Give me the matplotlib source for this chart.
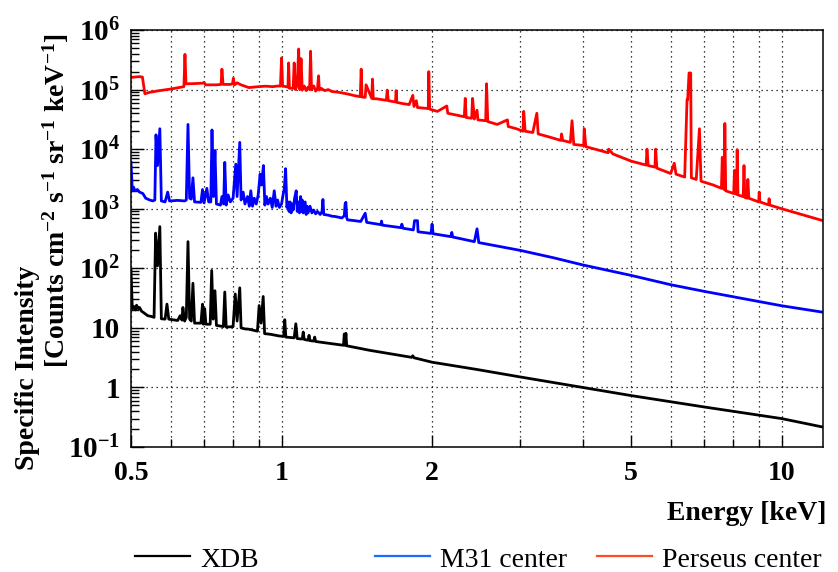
import numpy as np
import matplotlib
matplotlib.use('Agg')
import matplotlib.pyplot as plt
from matplotlib.lines import Line2D
from matplotlib.ticker import FixedLocator, FixedFormatter, NullFormatter

plt.rcParams['font.family'] = ['Liberation Serif', 'DejaVu Serif']
plt.rcParams['mathtext.fontset'] = 'custom'
plt.rcParams['mathtext.rm'] = 'Liberation Serif:bold'
plt.rcParams['mathtext.default'] = 'rm'

# spectra: energy [keV], intensity
xdb_e = [0.500, 0.503, 0.506, 0.510, 0.513, 0.517, 0.520, 0.525, 0.530, 0.540, 0.550, 0.556,
         0.560, 0.565, 0.571, 0.575, 0.585, 0.590, 0.595, 0.620, 0.627, 0.632, 0.635, 0.640,
         0.645, 0.650, 0.655, 0.660, 0.665, 0.670, 0.690, 0.695, 0.698, 0.702, 0.706, 0.720,
         0.725, 0.730, 0.736, 0.741, 0.765, 0.770, 0.775, 0.800, 0.808, 0.815, 0.825, 0.830,
         0.845, 0.860, 0.895, 0.902, 0.910, 0.919, 0.925, 0.950, 0.990, 1.010, 1.015, 1.020,
         1.060, 1.068, 1.075, 1.100, 1.105, 1.110, 1.130, 1.135, 1.140, 1.160, 1.165, 1.170,
         1.330, 1.335, 1.340, 1.345, 1.350, 1.500, 1.820, 1.830, 1.840, 2.000, 2.460, 3.000,
         5.000, 7.000, 10.00, 12.10]
xdb_i = [92, 21, 23, 20, 24, 21, 22, 19, 18, 16, 15.5, 15,
         390, 110, 500, 14.2, 14, 25, 14, 13.3, 16, 13.5, 22, 13,
         15, 280, 14, 13, 56, 12, 12, 25, 11.5, 21, 11.5, 11.5,
         92, 14, 42, 11, 10.5, 40, 10.3, 10.5, 37, 13, 47, 10,
         9.6, 9.5, 8.8, 23.7, 12, 33.6, 8, 7.8, 7.3, 7.2, 13.7, 7.0,
         6.8, 11.7, 6.6, 6.5, 8.5, 6.4, 6.2, 7.5, 6.1, 6.0, 7.0, 5.9,
         5.1, 7.9, 5.1, 8.1, 5.0, 4.2, 3.2, 3.4, 3.15, 2.65, 2.0, 1.5,
         0.73, 0.47, 0.30, 0.216]

m31_e = [0.500, 0.503, 0.506, 0.509, 0.515, 0.520, 0.528, 0.535, 0.545, 0.553, 0.558, 0.561,
         0.565, 0.571, 0.575, 0.585, 0.592, 0.597, 0.620, 0.640, 0.645, 0.650, 0.655, 0.660,
         0.665, 0.670, 0.690, 0.695, 0.700, 0.709, 0.715, 0.722, 0.726, 0.731, 0.736, 0.741,
         0.755, 0.760, 0.766, 0.770, 0.775, 0.782, 0.790, 0.800, 0.810, 0.815, 0.825, 0.830,
         0.838, 0.845, 0.855, 0.862, 0.868, 0.875, 0.882, 0.890, 0.898, 0.906, 0.912, 0.920,
         0.926, 0.933, 0.940, 0.950, 0.958, 0.967, 0.975, 0.982, 0.990, 1.000, 1.007, 1.013,
         1.019, 1.025, 1.030, 1.035, 1.040, 1.045, 1.050, 1.055, 1.062, 1.070, 1.075, 1.080,
         1.086, 1.092, 1.097, 1.100, 1.105, 1.110, 1.115, 1.120, 1.125, 1.130, 1.140, 1.150,
         1.160, 1.170, 1.180, 1.195, 1.205, 1.210, 1.215, 1.240, 1.260, 1.280, 1.300, 1.320,
         1.335, 1.340, 1.345, 1.350, 1.355, 1.400, 1.440, 1.470, 1.480, 1.580, 1.585, 1.590,
         1.735, 1.740, 1.750, 1.835, 1.845, 1.870, 1.875, 1.990, 2.000, 2.010, 2.180, 2.190,
         2.200, 2.430, 2.460, 2.480, 3.000, 3.500, 4.000, 5.000, 6.000, 7.000, 8.500, 10.00,
         12.10]
m31_i = [6000, 2000, 2300, 2000, 2100, 1900, 1800, 1500, 1400, 1350, 1400, 17400,
         5300, 22000, 1350, 1300, 1900, 1350, 1380, 1350, 1400, 26000, 1500, 1450,
         3300, 1300, 1280, 2100, 1250, 2200, 1300, 1300, 21000, 1600, 9500, 1200,
         1150, 1600, 1200, 6000, 1150, 1700, 1300, 1500, 5600, 1600, 13000, 1400,
         1900, 1200, 1600, 1100, 2000, 1100, 1500, 1200, 1700, 3800, 2500, 5300,
         1150, 1600, 1200, 1500, 1050, 2000, 1100, 1400, 1050, 1200, 1700, 2200,
         4700, 1050, 1300, 900, 1300, 850, 1200, 950, 1500, 2000, 900, 1300,
         850, 1600, 900, 1400, 850, 1250, 1300, 800, 1100, 850, 1100, 850,
         950, 820, 900, 800, 900, 1430, 800, 780, 750, 740, 720, 700,
         760, 1200, 1280, 700, 650, 630, 610, 840, 590, 540, 620, 530,
         480, 550, 470, 440, 630, 630, 410, 385, 550, 380, 340, 400,
         335, 280, 460, 270, 200, 150, 114, 76, 53, 41, 30.3, 23.5,
         18.3]

per_e = [0.500, 0.520, 0.527, 0.533, 0.545, 0.570, 0.600, 0.630, 0.638, 0.641, 0.644, 0.670,
         0.695, 0.700, 0.705, 0.740, 0.757, 0.760, 0.764, 0.790, 0.798, 0.801, 0.805, 0.815,
         0.830, 0.860, 0.900, 0.930, 0.960, 0.985, 0.995, 1.000, 1.005, 1.020, 1.030, 1.033,
         1.037, 1.055, 1.060, 1.066, 1.075, 1.082, 1.088, 1.094, 1.100, 1.110, 1.120, 1.130,
         1.138, 1.143, 1.148, 1.160, 1.170, 1.180, 1.186, 1.190, 1.200, 1.220, 1.240, 1.260,
         1.300, 1.350, 1.400, 1.437, 1.443, 1.449, 1.470, 1.476, 1.515, 1.520, 1.526, 1.550,
         1.620, 1.627, 1.635, 1.690, 1.695, 1.700, 1.750, 1.800, 1.830, 1.840, 1.860, 1.870,
         1.920, 1.965, 1.970, 1.978, 2.050, 2.140, 2.150, 2.250, 2.320, 2.330, 2.340, 2.400,
         2.410, 2.430, 2.460, 2.470, 2.560, 2.570, 2.585, 2.700, 2.830, 2.840, 2.950, 3.040,
         3.050, 3.070, 3.180, 3.240, 3.260, 3.430, 3.620, 3.630, 3.650, 3.780, 3.810, 3.840,
         4.020, 4.030, 4.060, 4.500, 4.510, 4.600, 5.000, 5.360, 5.380, 5.410, 5.580, 5.600,
         5.630, 6.000, 6.100, 6.150, 6.400, 6.470, 6.490, 6.530, 6.580, 6.600, 6.750, 6.850,
         6.900, 7.300, 7.580, 7.610, 7.640, 7.680, 7.700, 7.730, 8.020, 8.050, 8.080, 8.130,
         8.150, 8.180, 8.380, 8.410, 8.440, 8.530, 8.560, 8.600, 9.000, 9.020, 9.050, 9.420,
         9.440, 9.470, 10.00, 12.10]
per_i = [1.60e5, 1.65e5, 1.62e5, 8.5e4, 9.0e4, 9.6e4, 1.02e5, 1.10e5, 1.12e5, 3.9e5, 1.25e5, 1.26e5,
         1.28e5, 1.32e5, 1.20e5, 1.20e5, 1.22e5, 2.2e5, 1.22e5, 1.22e5, 1.25e5, 1.55e5, 1.20e5, 1.30e5,
         1.20e5, 1.08e5, 1.12e5, 1.14e5, 1.12e5, 1.15e5, 1.14e5, 3.4e5, 1.15e5, 1.12e5, 1.10e5, 2.8e5,
         1.05e5, 1.05e5, 2.8e5, 1.00e5, 1.20e5, 4.8e5, 1.00e5, 3.3e5, 9.8e4, 1.15e5, 9.6e4, 1.10e5,
         1.00e5, 4.4e5, 1.00e5, 1.15e5, 9.4e4, 1.05e5, 1.70e5, 9.8e4, 1.05e5, 9.6e4, 1.00e5, 9.3e4,
         9.0e4, 8.5e4, 7.9e4, 7.6e4, 2.2e5, 7.5e4, 7.4e4, 1.2e5, 7.1e4, 1.5e5, 7.0e4, 7.0e4,
         6.6e4, 9.8e4, 6.5e4, 6.2e4, 9.6e4, 6.1e4, 5.8e4, 5.6e4, 8.0e4, 5.2e4, 6.5e4, 5.0e4,
         4.9e4, 4.8e4, 2.0e5, 4.7e4, 4.3e4, 5.3e4, 4.0e4, 3.7e4, 3.5e4, 7.1e4, 3.4e4, 3.3e4,
         7.1e4, 3.2e4, 4.5e4, 3.1e4, 3.0e4, 1.25e5, 2.9e4, 2.6e4, 3.1e4, 2.4e4, 2.2e4, 2.0e4,
         4.3e4, 2.0e4, 1.9e4, 4.0e4, 1.8e4, 1.6e4, 1.4e4, 1.8e4, 1.4e4, 1.3e4, 3.0e4, 1.2e4,
         1.15e4, 2.2e4, 1.1e4, 8.7e3, 1.0e4, 8.3e3, 6.3e3, 5.4e3, 1.0e4, 5.3e3, 5.0e3, 1.0e4,
         4.8e3, 3.9e3, 5.8e3, 3.8e3, 3.4e3, 6.8e4, 6.8e4, 1.9e5, 1.9e5, 3.3e3, 3.1e3, 2.2e4,
         2.9e3, 2.5e3, 2.2e3, 7.3e3, 2.2e3, 2.1e3, 2.7e4, 2.0e3, 1.8e3, 4.4e3, 1.8e3, 1.75e3,
         9.8e3, 1.7e3, 1.6e3, 5.3e3, 1.55e3, 1.5e3, 3.1e3, 1.5e3, 1.3e3, 1.9e3, 1.3e3, 1.16e3,
         1.47e3, 1.15e3, 1.0e3, 630]

series_labels = ['XDB', 'M31 center', 'Perseus center']
series_colors = ['black', '#0000ff', '#ff0000']
legend_colors = ['black', '#1a6bff', '#ff4a2a']

xtick_vals = [0.5, 1, 2, 5, 10]
xtick_labels = ['0.5', '1', '2', '5', '10']
xminor_vals = [0.6, 0.7, 0.8, 0.9, 3, 4, 6, 7, 8, 9]
ytick_vals = [1e-1, 1, 10, 1e2, 1e3, 1e4, 1e5, 1e6]
ytick_labels = [r'$10^{-1}$', '1', '10', r'$10^{2}$', r'$10^{3}$', r'$10^{4}$', r'$10^{5}$', r'$10^{6}$']

W, H = 838, 572
fig = plt.figure(figsize=(W / 100, H / 100), dpi=100)
fig.patch.set_facecolor('white')
ax = fig.add_axes([131 / W, 125 / H, 692 / W, 417 / H])

ax.plot(xdb_e, xdb_i, color=series_colors[0], lw=2.0)
ax.plot(m31_e, m31_i, color=series_colors[1], lw=2.0)
ax.plot(per_e, per_i, color=series_colors[2], lw=2.0)

ax.set_xscale('log')
ax.set_yscale('log')
ax.set_xlim(0.5, 12.1)
ax.set_ylim(1e-1, 1e6)

ax.xaxis.set_major_locator(FixedLocator(xtick_vals))
ax.xaxis.set_major_formatter(FixedFormatter(xtick_labels))
ax.xaxis.set_minor_locator(FixedLocator(xminor_vals))
ax.xaxis.set_minor_formatter(NullFormatter())
ax.yaxis.set_major_locator(FixedLocator(ytick_vals))
ax.yaxis.set_major_formatter(FixedFormatter(ytick_labels))
ax.yaxis.set_minor_locator(matplotlib.ticker.LogLocator(base=10, subs=np.arange(2, 10)))
ax.yaxis.set_minor_formatter(NullFormatter())

ax.tick_params(which='both', direction='in', top=False, right=False, width=1)
ax.tick_params(which='major', length=9)
ax.tick_params(which='minor', length=6)
ax.tick_params(axis='x', pad=10, labelsize=20)
ax.tick_params(axis='y', pad=8, labelsize=21)
for lab in ax.get_xticklabels():
    lab.set_fontweight('bold')
for lab in ax.get_yticklabels():
    lab.set_fontweight('bold')

ax.grid(True, axis='x', which='both', color='black', ls=(0, (1, 3)), lw=0.9)
ax.grid(True, axis='y', which='major', color='black', ls=(0, (1, 3)), lw=0.9)
for sp in ax.spines.values():
    sp.set_linewidth(1.1)

fig.text(826 / W, 1 - 520 / H, 'Energy [keV]', ha='right', va='baseline',
         fontsize=20, fontweight='bold')
fig.text(27 / W, 1 - 470 / H, 'Specific Intensity', rotation=90, rotation_mode='anchor',
         ha='left', va='center', fontsize=20, fontweight='bold')
fig.text(56 / W, 1 - 368 / H, r'[Counts cm$^{-2}$ s$^{-1}$ sr$^{-1}$ keV$^{-1}$]', rotation=90,
         rotation_mode='anchor', ha='left', va='center', fontsize=20, fontweight='bold')

# legend under the plot
leg_x = [(135, 190, 200), (375, 430, 440), (597, 652, 662)]
for (x0, x1, xt), lab, c in zip(leg_x, series_labels, legend_colors):
    fig.add_artist(Line2D([x0 / W, x1 / W], [1 - 556 / H, 1 - 556 / H], color=c, lw=1.6,
                          transform=fig.transFigure))
    fig.text(xt / W, 1 - 567 / H, lab, ha='left', va='baseline', fontsize=20)

fig.savefig('out.png', dpi=100)
